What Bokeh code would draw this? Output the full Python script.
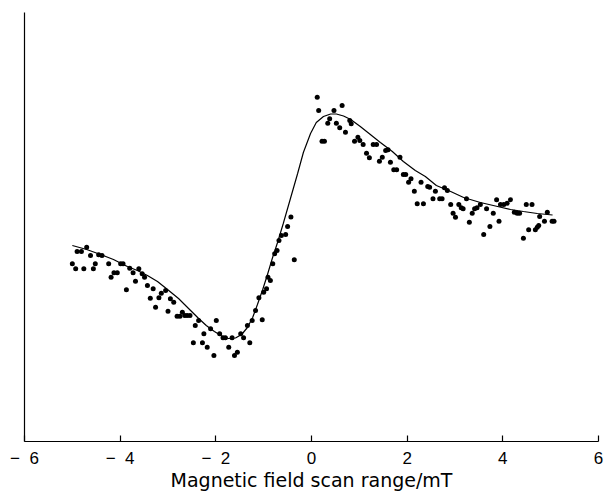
from bokeh.plotting import figure
from bokeh.models import Range1d, FixedTicker
from bokeh.embed import file_html
from bokeh.resources import INLINE

# Measured EPR derivative signal (field offset in mT, signal in arbitrary units)
field_pts = [
    -5.00, -4.93, -4.90, -4.81, -4.76, -4.70, -4.62, -4.56, -4.52, -4.45,
    -4.38, -4.24, -4.19, -4.13, -4.06, -3.99, -3.94, -3.87, -3.80, -3.73,
    -3.68, -3.61, -3.54, -3.49, -3.43, -3.37, -3.31, -3.26, -3.19, -3.14,
    -3.05, -3.00, -2.95, -2.88, -2.81, -2.75, -2.70, -2.65, -2.60, -2.54,
    -2.47, -2.43, -2.36, -2.28, -2.25, -2.18, -2.11, -2.04, -1.99, -1.92,
    -1.85, -1.80, -1.73, -1.66, -1.61, -1.55, -1.48, -1.42, -1.34, -1.29,
    -1.24, -1.17, -1.10, -1.03, -1.00, -0.94, -0.91, -0.86, -0.81, -0.77,
    -0.72, -0.68, -0.63, -0.54, -0.50, -0.43, -0.36,
    0.12, 0.15, 0.22, 0.27, 0.34, 0.38, 0.47, 0.52, 0.59, 0.64,
    0.71, 0.80, 0.83, 0.90, 0.97, 1.01, 1.08, 1.15, 1.21, 1.29,
    1.36, 1.42, 1.48, 1.55, 1.60, 1.65, 1.72, 1.78, 1.85, 1.92,
    1.97, 2.03, 2.08, 2.15, 2.21, 2.29, 2.34, 2.43, 2.47, 2.54,
    2.59, 2.68, 2.73, 2.78, 2.84, 2.91, 2.96, 3.01, 3.08, 3.13,
    3.17, 3.24, 3.30, 3.36, 3.41, 3.46, 3.53, 3.60, 3.66, 3.73,
    3.80, 3.87, 3.92, 3.95, 4.02, 4.09, 4.16, 4.24, 4.30, 4.35,
    4.43, 4.49, 4.54, 4.61, 4.68, 4.72, 4.75, 4.77, 4.87, 4.93,
    5.03, 5.07,
]
signal_pts = [
    177.7, 172.7, 190.0, 190.0, 172.7, 194.3, 186.0, 172.7, 177.7, 186.7,
    186.0, 177.7, 164.3, 168.7, 168.7, 177.7, 177.7, 151.7, 173.3, 168.7,
    160.3, 172.7, 167.7, 164.3, 156.0, 143.3, 152.7, 134.3, 143.7, 148.3,
    151.0, 130.3, 142.7, 139.3, 125.3, 125.3, 129.3, 126.0, 126.0, 126.0,
    98.7, 116.0, 121.0, 98.7, 107.7, 94.3, 112.7, 86.0, 121.0, 107.7,
    103.7, 103.7, 94.3, 103.7, 86.0, 89.3, 107.7, 103.7, 116.0, 98.7,
    121.0, 131.0, 143.7, 121.7, 149.3, 152.7, 164.3, 161.0, 177.7, 187.7,
    191.0, 201.0, 206.0, 207.0, 215.0, 224.5, 181.7,
    344.3, 331.0, 300.3, 300.3, 318.3, 322.7, 331.0, 318.3, 313.7, 336.0,
    309.3, 321.0, 317.7, 300.3, 304.3, 301.0, 297.0, 288.3, 283.7, 297.0,
    297.0, 280.3, 284.3, 291.0, 291.7, 279.3, 271.7, 271.7, 284.3, 267.0,
    267.0, 259.3, 262.7, 250.3, 237.7, 259.3, 237.7, 255.0, 254.3, 242.7,
    250.3, 242.7, 242.7, 253.7, 251.0, 237.0, 228.3, 224.3, 237.0, 233.7,
    232.7, 242.7, 219.3, 228.3, 232.7, 233.7, 237.0, 207.0, 232.7, 215.0,
    228.3, 241.7, 220.3, 237.0, 237.0, 238.3, 241.7, 229.3, 228.3, 228.3,
    203.3, 237.0, 211.7, 237.0, 211.7, 214.3, 216.0, 225.0, 220.3, 229.3,
    220.3, 220.3,
]

# Fitted line
fit_field = [
    -5.00, -4.70, -4.41, -4.14, -3.85, -3.64, -3.43, -3.22, -3.01, -2.78,
    -2.57, -2.38, -2.20, -2.03, -1.86, -1.74, -1.59, -1.46, -1.34, -1.23,
    -1.13, -1.02, -0.92, -0.82, -0.71, -0.59, -0.44, -0.29, -0.17, -0.02,
    0.10, 0.25, 0.40, 0.52, 0.67, 0.82, 1.02, 1.23, 1.44, 1.69,
    1.92, 2.17, 2.38, 2.61, 2.91, 3.18, 3.53, 3.89, 4.16, 4.43,
    4.72, 5.04,
]
fit_signal = [
    196, 192, 187, 182, 175, 171, 166, 160, 152, 143,
    133, 124, 116, 110, 105, 103, 103.5, 107, 114, 124,
    137, 152, 167, 183, 199, 218, 243, 268, 289, 308,
    319, 325, 327.5, 327.5, 325.5, 322, 315, 307, 299, 290,
    280, 271, 265, 256, 250, 244, 239, 235, 232, 230,
    228, 226.5,
]

x_ticks = [-6, -4, -2, 0, 2, 4, 6]
x_tick_labels = ["\u2212\u00a0 6", "\u2212\u00a0 4", "\u2212\u00a0 2", "0", "2", "4", "6"]
x_title = "Magnetic field scan range/mT"

p = figure(width=604, height=494, output_backend="svg", toolbar_location=None,
           x_range=Range1d(-6, 6), y_range=Range1d(0, 429),
           min_border_left=24, min_border_right=6, min_border_top=12,
           min_border_bottom=53)
p.outline_line_color = None
p.xgrid.visible = False
p.ygrid.visible = False
p.background_fill_color = "white"
p.border_fill_color = "white"

p.line(fit_field, fit_signal, line_color="black", line_width=1.2)
p.scatter(field_pts, signal_pts, size=5, fill_color="black", line_color="black",
          line_width=0)

xa = p.xaxis[0]
xa.ticker = FixedTicker(ticks=x_ticks)
xa.major_label_overrides = {t: l for t, l in zip(x_ticks, x_tick_labels)}
xa.major_tick_in = 6
xa.major_tick_out = 0
xa.minor_tick_line_color = None
xa.axis_line_color = "black"
xa.axis_line_width = 1.2
xa.major_tick_line_width = 1.2
xa.major_label_text_font = "Liberation Sans"
xa.major_label_text_font_size = "17px"
xa.major_label_text_color = "black"
xa.major_label_standoff = 7
xa.axis_label = x_title
xa.axis_label_text_font = "DejaVu Sans"
xa.axis_label_text_font_size = "19px"
xa.axis_label_text_font_style = "normal"
xa.axis_label_text_color = "black"
xa.axis_label_standoff = -2

ya = p.yaxis[0]
ya.ticker = FixedTicker(ticks=[])
ya.major_tick_line_color = None
ya.minor_tick_line_color = None
ya.major_tick_in = 0
ya.major_tick_out = 0
ya.major_label_standoff = 0
ya.axis_line_color = "black"
ya.axis_line_width = 1.2

open("out.html", "w").write(file_html(p, INLINE))
